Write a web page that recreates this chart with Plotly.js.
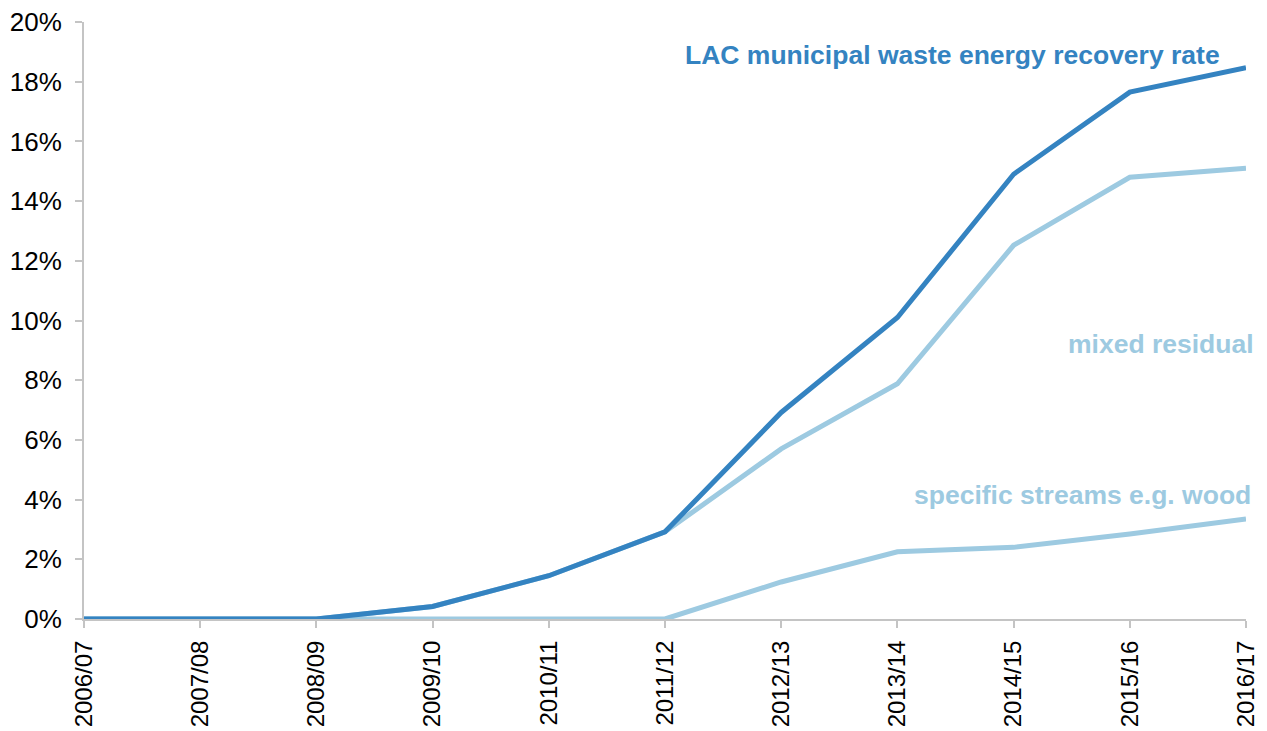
<!DOCTYPE html>
<html>
<head>
<meta charset="utf-8">
<script src="https://cdn.plot.ly/plotly-3.0.1.min.js"></script>
<style>html,body{margin:0;padding:0;background:#fff;}#chart{width:1267px;height:731px;}</style>
</head>
<body>
<div id="chart"></div>
<script>
const years = ["2006/07","2007/08","2008/09","2009/10","2010/11","2011/12","2012/13","2013/14","2014/15","2015/16","2016/17"];
const totalRate = [0, 0, 0, 0.42, 1.45, 2.92, 6.92, 10.1, 14.9, 17.65, 18.47];
const mixedResidual = [0, 0, 0, 0.42, 1.45, 2.92, 5.7, 7.88, 12.52, 14.8, 15.1];
const specificStreams = [0, 0, 0, 0, 0, 0, 1.24, 2.25, 2.4, 2.85, 3.35];
const yTicks = [0,2,4,6,8,10,12,14,16,18,20];

const dark = "#3483c1";
const light = "#9dcae1";

const traces = [
  {x: years, y: specificStreams, type: "scatter", mode: "lines", line: {color: light, width: 5}, name: "specific streams e.g. wood", hoverinfo: "skip"},
  {x: years, y: mixedResidual, type: "scatter", mode: "lines", line: {color: light, width: 5}, name: "mixed residual", hoverinfo: "skip"},
  {x: years, y: totalRate, type: "scatter", mode: "lines", line: {color: dark, width: 5}, name: "LAC municipal waste energy recovery rate", hoverinfo: "skip"}
];

const font = {family: "Liberation Sans, Arial, sans-serif", size: 26, color: "#000"};
const xFont = {family: font.family, size: 24, color: "#000"};

const layout = {
  width: 1267, height: 731,
  margin: {l: 84, r: 21, t: 22, b: 112},
  paper_bgcolor: "#fff", plot_bgcolor: "#fff",
  showlegend: false,
  font: font,
  xaxis: {
    type: "category", range: [0, 10],
    showgrid: false, zeroline: false,
    showline: true, linecolor: "#c4c4c4", linewidth: 2,
    ticks: "outside", ticklen: 7, tickcolor: "#c4c4c4", tickwidth: 2,
    tickangle: -90, tickfont: xFont, ticklabelstandoff: 3
  },
  yaxis: {
    range: [0, 20],
    tickvals: yTicks, ticktext: yTicks.map(v => v + "%"),
    showgrid: false, zeroline: false,
    showline: true, linecolor: "#c4c4c4", linewidth: 2,
    ticks: "outside", ticklen: 7, tickcolor: "#c4c4c4", tickwidth: 2,
    tickfont: font, ticklabelstandoff: 8
  },
  annotations: [
    {xref: "paper", yref: "y", x: 0.979, y: 18.9, xanchor: "right", yanchor: "middle", showarrow: false,
     text: "<b>LAC municipal waste energy recovery rate</b>", font: {family: font.family, size: 26.5, color: dark}},
    {xref: "paper", yref: "y", x: 1.0086, y: 9.2, xanchor: "right", yanchor: "middle", showarrow: false,
     text: "<b>mixed residual</b>", font: {family: font.family, size: 26.5, color: light}},
    {xref: "paper", yref: "y", x: 1.006, y: 4.17, xanchor: "right", yanchor: "middle", showarrow: false,
     text: "<b>specific streams e.g. wood</b>", font: {family: font.family, size: 26.5, color: light}}
  ]
};

Plotly.newPlot("chart", traces, layout, {displayModeBar: false, staticPlot: true});
</script>
</body>
</html>
